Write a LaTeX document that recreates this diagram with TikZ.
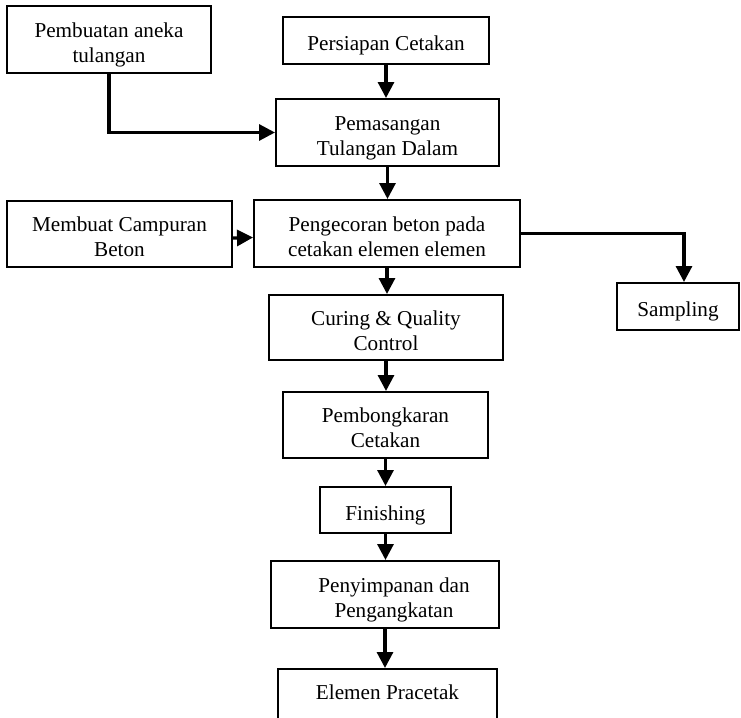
\documentclass[tikz,border=0pt]{standalone}
\usepackage{fontspec}
\setmainfont{Liberation Serif}
\usetikzlibrary{arrows.meta}
% centred lines of box text, drawn slightly below the box centre
\newcommand{\boxtext}[1]{\raisebox{-2.5pt}[\height][\depth]{\begin{tabular}{@{}c@{}}#1\end{tabular}}}
\begin{document}
\begin{tikzpicture}[x=0.5pt,y=-0.5pt,
  box/.style={draw, line width=1pt, rectangle, inner sep=0pt,
    font=\fontsize{10.6}{12.5}\selectfont},
  flow/.style={line width=1.6pt, -{Triangle[length=8pt,width=8pt]}}]
\clip (0,0) rectangle (741,718);
% process boxes
\node[box, minimum width=102pt, minimum height=33.5pt] (tul) at (109,39.5) {\boxtext{Pembuatan aneka\\tulangan}};
\node[box, minimum width=103pt, minimum height=23.5pt] (siap) at (386,40.5) {\boxtext{Persiapan Cetakan}};
\node[box, minimum width=111.5pt, minimum height=33.5pt] (pasang) at (387.5,132.5) {\boxtext{Pemasangan\\Tulangan Dalam}};
\node[box, minimum width=112.5pt, minimum height=33pt] (campur) at (119.5,234) {\boxtext{Membuat Campuran\\Beton}};
\node[box, minimum width=133pt, minimum height=33.5pt] (cor) at (387,233.5) {\boxtext{Pengecoran beton pada\\cetakan elemen elemen}};
\node[box, minimum width=61pt, minimum height=23.5pt] (sampel) at (678,306.5) {\boxtext{Sampling}};
\node[box, minimum width=117pt, minimum height=32.5pt] (curing) at (386,327.5) {\boxtext{Curing \& Quality\\Control}};
\node[box, minimum width=102.5pt, minimum height=33pt] (bongkar) at (385.5,425) {\boxtext{Pembongkaran\\Cetakan}};
\node[box, minimum width=65.5pt, minimum height=23pt] (finish) at (385.5,510) {\boxtext{Finishing}};
\node[box, minimum width=114pt, minimum height=33.5pt] (simpan) at (385,594.5) {\boxtext{\hspace*{9pt}Penyimpanan dan\\\hspace*{9pt}Pengangkatan}};
\node[box, minimum width=109.5pt, text height=15pt, text depth=16pt, anchor=north] (elemen) at (387.5,668) {Elemen Pracetak};
% connectors
\draw[flow] (tul.south) |- (pasang.west);
\draw[flow] (siap.south) -- (siap.south |- pasang.north);
\draw[flow] (pasang.south) -- (pasang.south |- cor.north);
\draw[flow] ([yshift=-2pt]campur.east) -- ([yshift=-2pt]cor.west);
\draw[flow] (cor.east) -| ([xshift=3pt]sampel.north);
\draw[flow] (cor.south) -- (cor.south |- curing.north);
\draw[flow] (curing.south) -- (curing.south |- bongkar.north);
\draw[flow] (bongkar.south) -- (bongkar.south |- finish.north);
\draw[flow] (finish.south) -- (finish.south |- simpan.north);
\draw[flow] (simpan.south) -- (simpan.south |- elemen.north);
\end{tikzpicture}
\end{document}
